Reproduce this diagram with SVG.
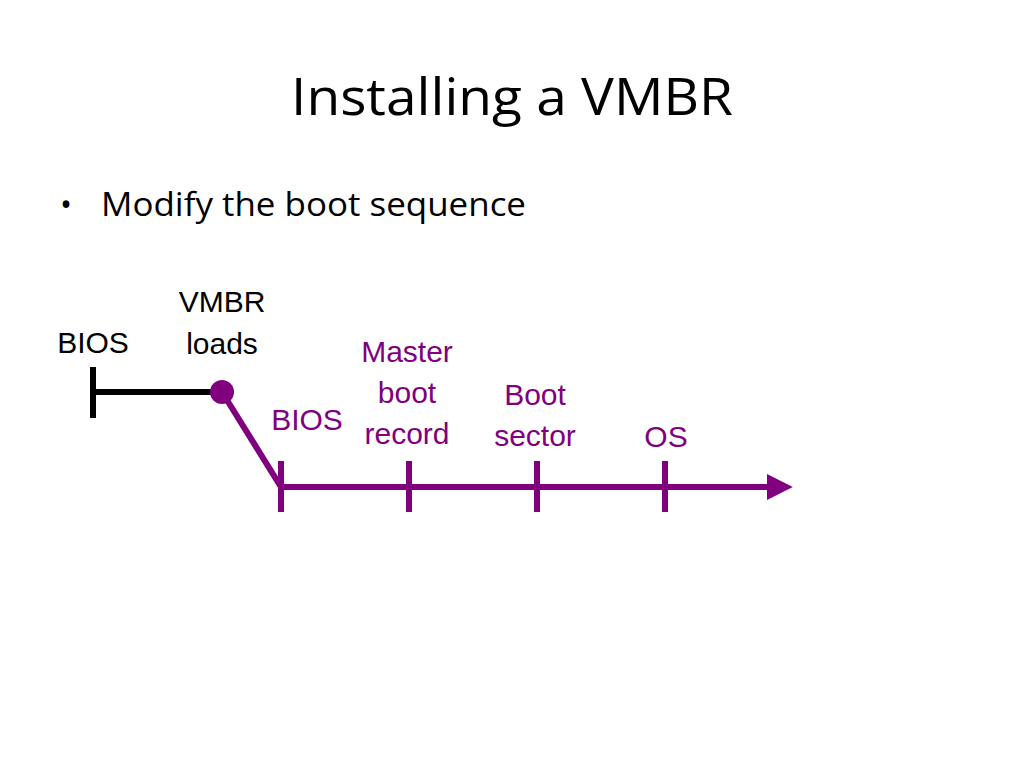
<svg xmlns="http://www.w3.org/2000/svg" width="1024" height="768" viewBox="0 0 1024 768">
<style>
.t{font-family:"Liberation Sans",Arial,sans-serif;font-size:30px;text-anchor:middle}
.p{fill:#800080}
.k{fill:#000}
.h{font-family:"Open Sans","Noto Sans",sans-serif;fill:#000}
.ln{stroke:#800080;stroke-width:6;fill:none}
</style>
<defs>
<marker id="ah" viewBox="0 0 10 10" refX="2" refY="5" markerWidth="26" markerHeight="26" markerUnits="userSpaceOnUse" orient="auto"><path d="M0,0 L10,5 L0,10z" fill="#800080"/></marker></defs>
<text class="h" x="512" y="115" font-size="52" text-anchor="middle" textLength="442" lengthAdjust="spacingAndGlyphs">Installing a VMBR</text>
<text class="h" x="60" y="216" font-size="32">•</text>
<text class="h" x="101" y="216" font-size="33" textLength="425" lengthAdjust="spacingAndGlyphs">Modify the boot sequence</text>
<g id="connectors">
<line x1="93" y1="392" x2="222" y2="392" stroke="#000" stroke-width="6"/>
<line x1="93" y1="367" x2="93" y2="418" stroke="#000" stroke-width="6"/>
<polyline class="ln" points="222,392 281,487 772,487" marker-end="url(#ah)"/>
<line class="ln" x1="281" y1="461" x2="281" y2="512"/>
<line class="ln" x1="409" y1="461" x2="409" y2="512"/>
<line class="ln" x1="537" y1="461" x2="537" y2="512"/>
<line class="ln" x1="665" y1="461" x2="665" y2="512"/>
<circle cx="222" cy="392" r="12" fill="#800080"/>
</g>
<g id="n1"><text class="t k" x="93" y="353">BIOS</text></g>
<g id="n2"><text class="t k" x="222" y="312">VMBR</text><text class="t k" x="222" y="354">loads</text></g>
<g id="n3"><text class="t p" x="307" y="430">BIOS</text></g>
<g id="n4"><text class="t p" x="407" y="362">Master</text><text class="t p" x="407" y="403">boot</text><text class="t p" x="407" y="444">record</text></g>
<g id="n5"><text class="t p" x="535" y="405">Boot</text><text class="t p" x="535" y="446">sector</text></g>
<g id="n6"><text class="t p" x="666" y="447">OS</text></g>
</svg>
